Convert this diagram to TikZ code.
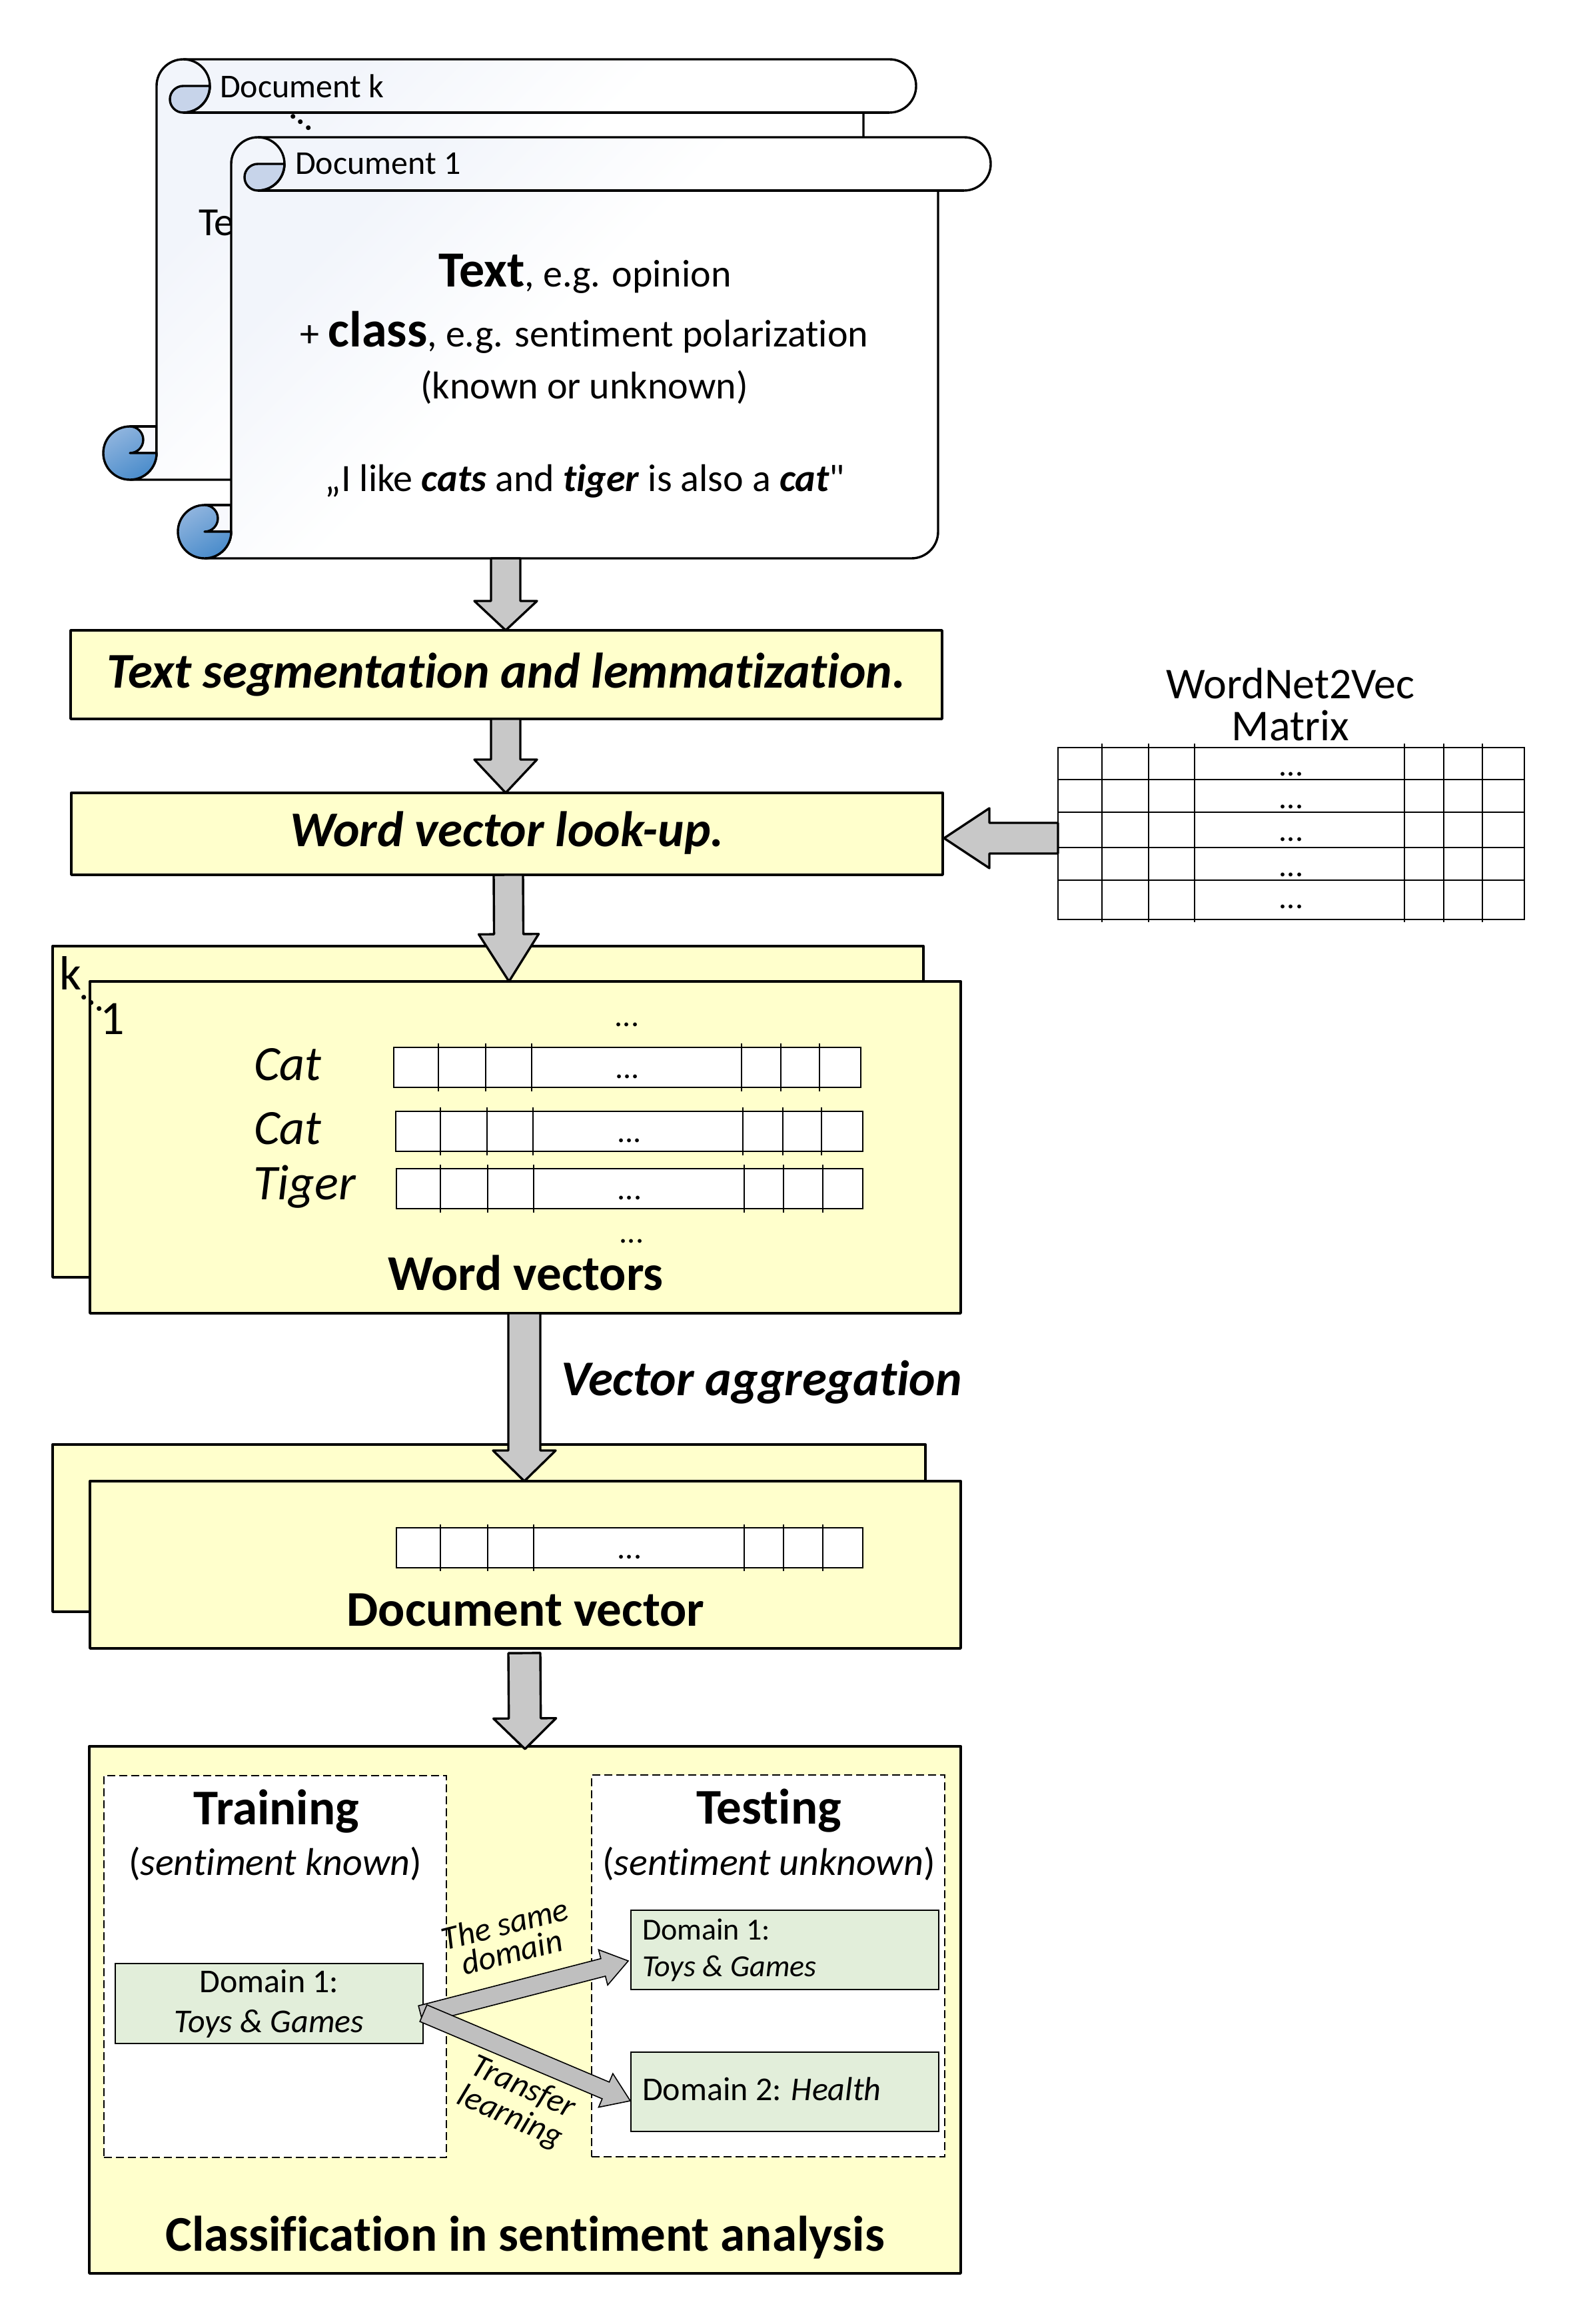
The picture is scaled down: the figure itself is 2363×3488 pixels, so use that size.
\documentclass[tikz,border=0pt]{standalone}
\usepackage{fontspec}
\setmainfont{Carlito}[Ligatures={CommonOff,TeXOff}]
\usetikzlibrary{calc}
\definecolor{paleyellow}{HTML}{FFFFCC}
\definecolor{palegreen}{HTML}{E2EEDA}
\definecolor{arrowgrey}{HTML}{C8C8C8}
\definecolor{arrowgreyb}{HTML}{BFBFBF}
\definecolor{curlpale}{HTML}{C7D4EA}
\definecolor{curldark}{HTML}{4A8CCB}
\definecolor{curllight}{HTML}{8FB4DE}
\definecolor{sheettint}{HTML}{F2F5FB}
\definecolor{tailtint}{HTML}{F8F9FD}
% pale tint in one corner of a sheet, fading to white past the middle
\pgfdeclareverticalshading{sheetfade}{100bp}{color(0bp)=(white); color(54bp)=(white); color(72bp)=(sheettint); color(100bp)=(sheettint)}
% font size given in picture units (half a point per unit)
\newcommand{\fpx}[1]{\fontsize{#1}{#1}\selectfont}
\tikzset{
  outline/.style={draw=black,line width=1.7pt,line join=round},
  yellowbox/.style={outline,fill=paleyellow,inner sep=0pt,outer sep=0pt},
  greenbox/.style={draw=black,line width=.9pt,fill=palegreen,inner sep=0pt,outer sep=0pt},
  cellbox/.style={draw=black,line width=.8pt,fill=white,inner sep=0pt,outer sep=0pt},
  dashbox/.style={draw=black,line width=1.1pt,dash pattern=on 6pt off 3pt,fill=white,inner sep=0pt,outer sep=0pt},
  celltick/.style={draw=black,line width=.8pt},
  label/.style={inner sep=0pt,outer sep=0pt,anchor=base},
  labelw/.style={inner sep=0pt,outer sep=0pt,anchor=base west},
  blockarrow/.style n args={3}{
    to path={
      ($(\tikztostart)!#1!90:(\tikztotarget)$)
      -- ($($(\tikztotarget)!#3!(\tikztostart)$)!#1!90:(\tikztotarget)$)
      -- ($($(\tikztotarget)!#3!(\tikztostart)$)!#2!90:(\tikztotarget)$)
      -- (\tikztotarget)
      -- ($($(\tikztotarget)!#3!(\tikztostart)$)!#2!-90:(\tikztotarget)$)
      -- ($($(\tikztotarget)!#3!(\tikztostart)$)!#1!-90:(\tikztotarget)$)
      -- ($(\tikztostart)!#1!-90:(\tikztotarget)$)
      -- cycle}},
  mainarrow/.style={outline,fill=arrowgrey},
  thinarrow/.style={draw=black,line width=.8pt,line join=miter,fill=arrowgreyb}
}
% box by its corners: name, x1, y1, x2, y2, style, text
\newcommand{\cornerbox}[7]{%
  \node[#6,minimum width={(#4-#2)*0.5pt},minimum height={(#5-#3)*0.5pt}]
    (#1) at ({(#2+#4)/2},{(#3+#5)/2}) {#7};}
% scroll sheet: left, top, header right, body right, bottom
\newcommand{\scrollsheet}[5]{%
  \draw[outline,fill=tailtint] (#1-40,#5-80) -- (#1,#5-80) -- (#1,#5-40) -- (#1-40,#5-40) -- cycle;
  \draw[outline,shading=sheetfade,shading angle=45]
    (#1,#2+40) arc[start angle=180,end angle=90,radius=20pt]
    -- (#3-40,#2) arc[start angle=90,end angle=-90,radius=20pt]
    -- (#4,#2+80) -- (#4,#5-40) arc[start angle=0,end angle=-90,radius=20pt]
    -- (#1-40,#5) arc[start angle=-90,end angle=0,radius=20pt] -- cycle;
  \draw[outline] (#3-40,#2+80) -- (#1+40,#2+80);
  \draw[outline,top color=curllight,bottom color=curldark,shading angle=30]
    (#1-40,#5-40) -- (#1,#5-40) arc[start angle=0,end angle=-270,radius=20pt]
    arc[start angle=90,end angle=-90,radius=10pt] -- cycle;
  \draw[outline,fill=curlpale] (#1+80,#2+40) -- (#1+40,#2+40)
    arc[start angle=90,end angle=270,radius=10pt]
    arc[start angle=-90,end angle=0,radius=20pt] -- cycle;
  \draw[outline] (#1+40,#2) arc[start angle=90,end angle=-90,radius=20pt];}
% strip of cells: name, x1, y1, x2, y2, tick overhang, tick positions
\newcommand{\cellstrip}[7]{%
  \cornerbox{#1}{#2}{#3}{#4}{#5}{cellbox}{}
  \foreach \tx in {#7} {\draw[celltick] (\tx,#3-#6) -- (\tx,#5+#6);}
  \node[label] at ({(#2+#4)/2},{#5-14}) {\fpx{24}...};}

\begin{document}
\begin{tikzpicture}[x=0.5pt,y=-0.5pt]
\useasboundingbox (0,0) rectangle (2363,3488);
\fill[white] (0,0) rectangle (2363,3488);

% stacked documents
\scrollsheet{235}{89}{1375}{1296}{720}
\node[labelw] (dock) at (330,147) {\fpx{25}Document k};
\node[labelw] (texthint) at (298,354) {\fpx{30}Te};
\node[label,rotate=-35] (docdots) at (450,186) {\fpx{29}...};
\scrollsheet{347}{206}{1487}{1408}{838}
\node[labelw] (docone) at (443,262) {\fpx{25}Document 1};
\node[label] (l1) at (878,431) {\fpx{38}\textbf{Text}\fpx{29}, e.g. opinion};
\node[label] (l2) at (877,520) {\fpx{29}+ \fpx{38}\textbf{class}\fpx{29}, e.g. sentiment polarization};
\node[label] (l3) at (877,598) {\fpx{29}(known or unknown)};
\node[label] (l4) at (878,737) {\fpx{29}„I like \textbf{\textit{cats}} and \textbf{\textit{tiger}} is also a \textbf{\textit{cat}}"};
\coordinate (docbottom) at (759,838);

% processing steps
\cornerbox{seg}{106}{946}{1414}{1079}{yellowbox}{}
\node[label] at (760,1032) {\fpx{37.5}\textbf{\textit{Text segmentation and lemmatization.}}};
\cornerbox{lookup}{107}{1190}{1415}{1313}{yellowbox}{}
\node[label] at (761,1270) {\fpx{37.5}\textbf{\textit{Word vector look-up.}}};

% embedding matrix
\node[label] at (1937,1048) {\fpx{33}WordNet2Vec};
\node[label] at (1937,1111) {\fpx{33}Matrix};
\cornerbox{wn}{1588}{1122}{2288}{1380}{cellbox}{}
\foreach \ry in {1170,1219,1272,1321} {\draw[celltick] (wn.west |- 0,\ry) -- (wn.east |- 0,\ry);}
\foreach \tx in {1654,1724,1793,2108,2167,2225} {\draw[celltick] (\tx,1116) -- (\tx,1384);}
\foreach \ry in {1164,1213,1262,1315,1363} {\node[label] at (1938,\ry) {\fpx{24}...};}

% word vectors
\cornerbox{wvback}{79}{1420}{1386}{1917}{yellowbox}{}
\cornerbox{wv}{135}{1473}{1442}{1971}{yellowbox}{}
\node[labelw] at (89,1485) {\fpx{36}k};
\node[labelw] at (150,1552) {\fpx{36}1};
\node[label,rotate=-35] at (136,1508) {\fpx{29}...};
\node[label] at (941,1540) {\fpx{24}...};
\node[label] at (948,1865) {\fpx{24}...};
\node[labelw] at (381,1621) {\fpx{37}\textit{Cat}};
\node[labelw] at (381,1717) {\fpx{37}\textit{Cat}};
\node[labelw] at (380,1800) {\fpx{37.5}\textit{Tiger}};
\cellstrip{rowa}{591}{1572}{1292}{1632}{6}{658,729,798,1113,1172,1230}
\cellstrip{rowb}{594}{1668}{1295}{1728}{6}{661,731,800,1115,1175,1233}
\cellstrip{rowc}{595}{1754}{1295}{1814}{6}{661,732,801,1117,1176,1235}
\node[label] at (789,1936) {\fpx{37.5}\textbf{Word vectors}};

% aggregation
\node[label] at (1143,2094) {\fpx{37.5}\textbf{\textit{Vector aggregation}}};
\cornerbox{dvback}{79}{2168}{1389}{2419}{yellowbox}{}
\cornerbox{dv}{135}{2223}{1442}{2474}{yellowbox}{}
\cellstrip{rowd}{595}{2293}{1295}{2353}{5}{661,732,801,1117,1176,1235}
\node[label] at (789,2440) {\fpx{37.5}\textbf{Document vector}};

% classification panel
\cornerbox{cls}{134}{2621}{1442}{3412}{yellowbox}{}
\cornerbox{train}{156}{2665}{670}{3238}{dashbox}{}
\cornerbox{test}{888}{2664}{1418}{3237}{dashbox}{}
\node[label] at (415,2738) {\fpx{37.5}\textbf{Training}};
\node[label] at (413,2814) {\fpx{29}(\textit{sentiment known})};
\node[label] at (1154,2737) {\fpx{37.5}\textbf{Testing}};
\node[label] at (1154,2814) {\fpx{29}(\textit{sentiment unknown})};
\cornerbox{dom}{173}{2947}{635}{3067}{greenbox}{}
\node[label] at (404,2990) {\fpx{25}Domain 1:};
\node[label] at (404,3050) {\fpx{25}\textit{Toys \& Games}};
\cornerbox{domone}{947}{2867}{1409}{2986}{greenbox}{}
\node[labelw] at (964,2911) {\fpx{23}Domain 1:};
\node[labelw] at (964,2966) {\fpx{23}\textit{Toys \& Games}};
\cornerbox{domtwo}{947}{3080}{1409}{3199}{greenbox}{}
\node[labelw] at (964,3152) {\fpx{25}Domain 2: \textit{Health}};
\node[inner sep=0pt,rotate=14,align=center] at (763,2908) {\fpx{25}\textit{The same}\\[3pt]\fpx{25}\textit{domain}};
\node[inner sep=0pt,rotate=-24,align=center] at (775,3156) {\fpx{25}\textit{Transfer}\\[3pt]\fpx{25}\textit{learning}};
\node[label] at (788,3378) {\fpx{37.5}\textbf{Classification in sentiment analysis}};

% block arrows between the stages
\draw[mainarrow,blockarrow={11pt}{23.5pt}{22pt}] (docbottom) to ($(seg.north)+(-1,0)$);
\draw[mainarrow,blockarrow={11pt}{23.5pt}{25pt}] ($(seg.south)+(-1,0)$) to ($(lookup.north)+(-2,0)$);
\draw[mainarrow,blockarrow={11.5pt}{22.5pt}{34pt}] ($(wn.west)+(0,7)$) to ($(lookup.east)+(2,6.5)$);
\draw[mainarrow,blockarrow={11pt}{22.5pt}{35.5pt}] ($(lookup.south)+(2,0)$) to ($(wv.north)+(-24.5,0)$);
\draw[mainarrow,blockarrow={12pt}{23.5pt}{23pt}] ($(wv.south)+(-1.5,0)$) to ($(dv.north)+(-1.5,0)$);
\draw[mainarrow,blockarrow={12pt}{23.5pt}{23pt}] ($(dv.south)+(-1.5,7)$) to ($(cls.north)+(0,4)$);
\draw[thinarrow,blockarrow={6.8pt}{13.7pt}{19.5pt}] ($(dom.east)+(-3.5,16.5)$) to ($(domone.west)+(-4,16.5)$);
\draw[thinarrow,blockarrow={6.8pt}{13.7pt}{20pt}] ($(dom.east)+(0.5,14.5)$) to ($(domtwo.west)+(-1,13.5)$);
\end{tikzpicture}
\end{document}
